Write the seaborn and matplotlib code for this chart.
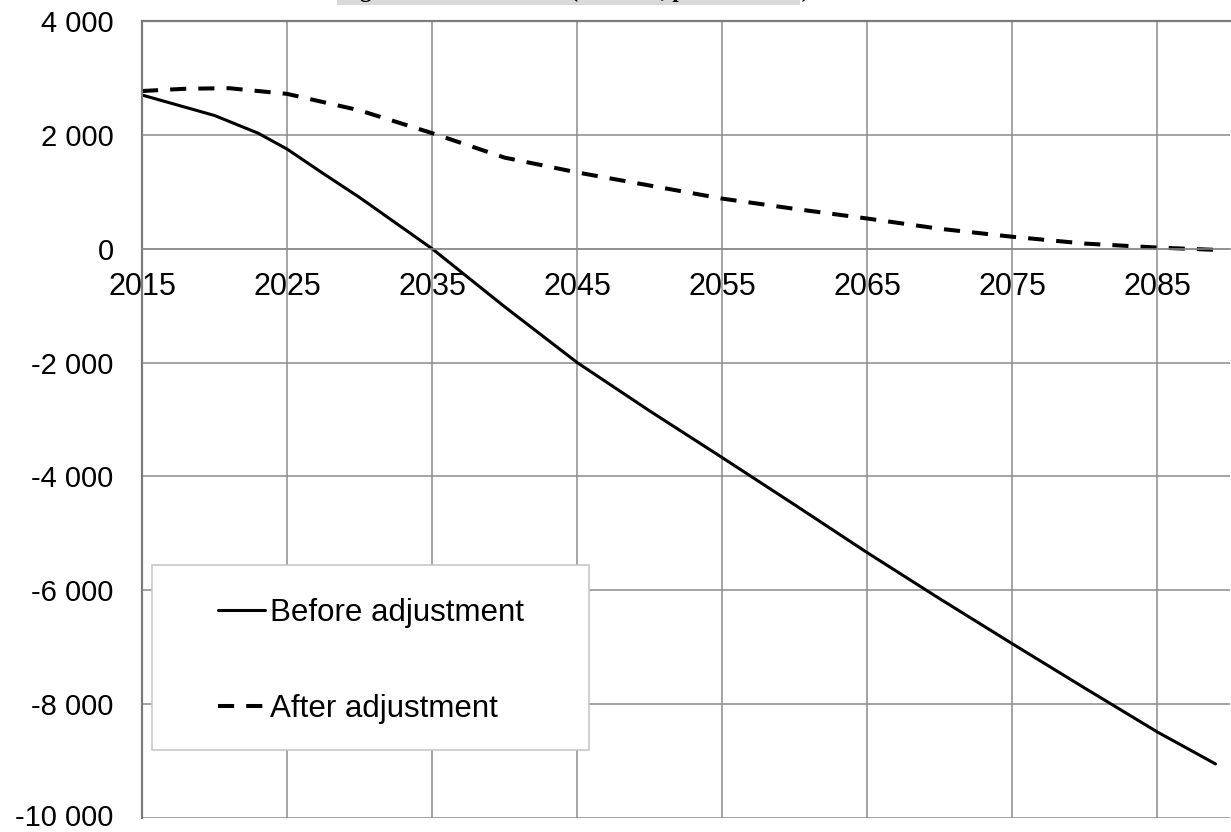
import numpy as np
import pandas as pd
import matplotlib
matplotlib.use("Agg")
import matplotlib.pyplot as plt
import matplotlib.transforms as mtransforms
from matplotlib.patches import Rectangle
from matplotlib.ticker import FuncFormatter
import seaborn as sns

# ---- data ----
before_years = [2015, 2020, 2023, 2025, 2027.5, 2030, 2035, 2040, 2045, 2050, 2055,
                2060, 2065, 2070, 2075, 2080, 2085, 2089]
before_vals = [2700, 2340, 2030, 1750, 1320, 900, 0, -1020, -2000, -2850, -3670,
               -4500, -5340, -6150, -6940, -7720, -8490, -9050]

after_years = [2015, 2018, 2021, 2025, 2030, 2035, 2040, 2045, 2050, 2055, 2060,
               2065, 2070, 2075, 2080, 2085, 2089]
after_vals = [2770, 2810, 2820, 2720, 2430, 2030, 1600, 1340, 1110, 880, 700,
              530, 350, 210, 90, 20, -20]

series_names = ["Before adjustment", "After adjustment"]
x_ticks = [2015, 2025, 2035, 2045, 2055, 2065, 2075, 2085]
y_ticks = [4000, 2000, 0, -2000, -4000, -6000, -8000, -10000]
title_text = "Figure 1. Fund balance (NOK bn, present value)"

df = pd.concat([
    pd.DataFrame({"year": before_years, "value": before_vals, "series": series_names[0]}),
    pd.DataFrame({"year": after_years, "value": after_vals, "series": series_names[1]}),
], ignore_index=True)

# ---- style ----
sns.set_style("white")
plt.rcParams["font.family"] = ["Liberation Sans", "DejaVu Sans"]
plt.rcParams["text.color"] = "black"

W, H = 1231, 832
fig = plt.figure(figsize=(W / 100, H / 100), dpi=100)
ax = fig.add_axes([142 / W, (H - 818) / H, (1230 - 142) / W, (818 - 21) / H])

GRID = "#8c8c8c"

sns.lineplot(data=df, x="year", y="value", style="series",
             style_order=series_names,
             dashes={series_names[0]: "", series_names[1]: (4, 3)},
             color="black", ax=ax, legend=False, sort=True, estimator=None)
lines = ax.get_lines()
lines[0].set_linewidth(2.2)
lines[1].set_linewidth(2.9)
lines[1].set_dashes((4, 3))

ax.set_xlim(2015, 2090)
ax.set_ylim(-10000, 4000)
ax.set_xticks(x_ticks)
ax.set_yticks(y_ticks)
ax.yaxis.set_major_formatter(FuncFormatter(lambda v, p: f"{v:,.0f}".replace(",", " ")))
ax.set_xlabel("")
ax.set_ylabel("")

ax.set_axisbelow(True)
ax.grid(True, color=GRID, linewidth=1.1)

for s in ["top", "left"]:
    ax.spines[s].set_color("#7a7a7a")
    ax.spines[s].set_linewidth(1.6)
ax.spines["right"].set_visible(False)
ax.spines["bottom"].set_position(("data", 0))
ax.spines["bottom"].set_color(GRID)
ax.spines["bottom"].set_linewidth(1.1)

ax.tick_params(axis="x", length=0, pad=17, labelsize=22, labelcolor="black")
ax.tick_params(axis="y", length=6.5, width=1.1, color=GRID, pad=14,
               labelsize=21, labelcolor="black", direction="out")

# lift the lowest y label slightly so it stays inside the canvas
fig.canvas.draw()
ylabels = ax.get_yticklabels()
for lab in ylabels:
    if lab.get_text().startswith("-10"):
        lab.set_transform(lab.get_transform() +
                          mtransforms.ScaledTranslation(0, 3 / 100, fig.dpi_scale_trans))

# legend frame + legend
rect = Rectangle((152 / W, 1 - 750 / H), 437 / W, 185 / H, transform=fig.transFigure,
                 facecolor="white", edgecolor="#c4c4c4", linewidth=1.1,
                 zorder=3, clip_on=False)
ax.add_patch(rect)
handles = [lines[0], lines[1]]
leg = ax.legend(handles, series_names, loc="upper left",
                bbox_to_anchor=(218 / W, 1 - 598 / H), bbox_transform=fig.transFigure,
                frameon=False, fontsize=22.5, borderpad=0, borderaxespad=0,
                handlelength=1.5, handletextpad=0.16, labelspacing=2.12)
leg.set_zorder(5)
for t in leg.get_texts():
    t.set_color("black")

# clipped title strip at the very top
fig.patches.append(Rectangle((337 / W, 1 - 5 / H), (800 - 337) / W, 5 / H,
                             transform=fig.transFigure, facecolor="#d9d9d9",
                             edgecolor="none", zorder=1))
fig.text(340 / W, 1 + 2.5 / H, title_text, fontsize=16.4, fontweight="bold",
         family=["Liberation Serif", "DejaVu Serif"], va="baseline", ha="left",
         color="black", zorder=2)

fig.savefig("out.png", dpi=100)
